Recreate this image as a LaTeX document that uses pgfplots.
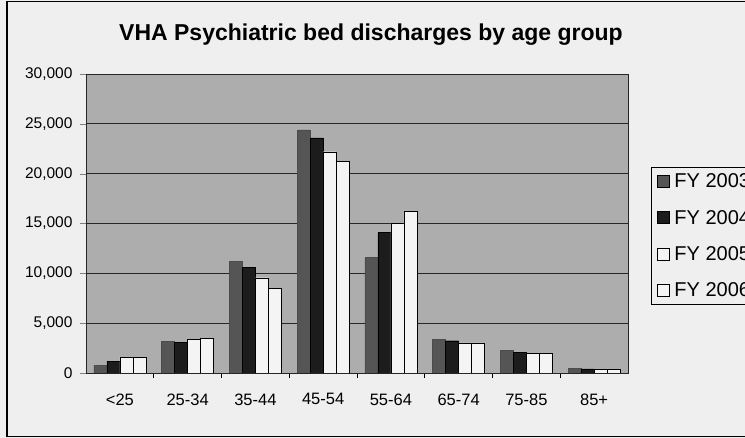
\documentclass[border=0pt]{standalone}
\usepackage{pgfplots}
\pgfplotsset{compat=1.18}
\usepackage{pgfplotstable}
\usepackage{fontspec}
\setmainfont{Liberation Sans}
\definecolor{bgc}{HTML}{EFEFEF}
\definecolor{plotc}{HTML}{ADADAD}
\definecolor{c03}{HTML}{555555}
\definecolor{c04}{HTML}{1C1C1C}
\definecolor{c05}{HTML}{F4F4F4}
\definecolor{c06}{HTML}{F4F4F4}
\pgfplotstableread{
cat y03 y04 y05 y06
0 800 1180 1580 1580
1 3150 3100 3350 3450
2 11170 10570 9560 8500
3 24400 23600 22200 21250
4 11580 14090 15000 16240
5 3410 3240 3010 3010
6 2240 2070 2000 2000
7 450 420 400 380
}\datatable
\begin{document}
\begin{tikzpicture}[x=1pt,y=1pt]
\path[use as bounding box] (0,0) rectangle (745,438);
\clip (0,0) rectangle (745,438);
\fill[bgc] (0,0) rectangle (745,438);
\draw[line width=1.3pt] (7,1.5) rectangle (760,436.5);
\node[font=\fontsize{23}{26}\selectfont\bfseries] at (371,403) {VHA Psychiatric bed discharges by age group};
\begin{axis}[
  at={(86pt,65pt)}, anchor=south west, scale only axis,
  width=542pt, height=299pt,
  ybar=0pt, bar width=13pt,
  xmin=-0.5, xmax=7.5, ymin=0, ymax=30000,
  xtick={0,...,7},
  xticklabels={<25,25-34,35-44,45-54,55-64,65-74,75-85,85+},
  major x tick style={draw=none},
  minor xtick={0.5,1.5,...,6.5},
  minor x tick style={draw=black, line width=0.8pt},
  minor tick length=5pt,
  tick pos=left,
  ytick={0,5000,...,30000},
  tick align=outside, major tick length=6pt,
  ymajorgrids, grid style={black!85, line width=0.9pt},
  axis background/.style={fill=plotc},
  axis line style={black!85, line width=0.9pt},
  scaled y ticks=false,
  /pgf/number format/1000 sep={,},
  /pgf/number format/assume math mode=true,
  yticklabel style={font=\fontsize{15.5}{17}\selectfont, xshift=-4pt},
  xticklabel style={font=\fontsize{16.5}{18}\selectfont, yshift=-11pt},
  legend style={at={(1.0424,0.692)}, anchor=north west, draw=black, line width=1pt, fill=bgc,
    font=\fontsize{20}{22}\selectfont, row sep=17pt, inner sep=4pt, yshift=-1pt},
  legend cell align=left,
  legend image code/.code={\path[draw=none, fill=none] (0pt,0pt) -- (17pt,0pt);\draw[#1, draw=black, line width=0.8pt] (2pt,-6pt) rectangle (14pt,6pt);},
]
\addplot[fill=c03, draw=black!70] table[x=cat, y=y03] {\datatable};
\addplot[fill=c04, draw=black] table[x=cat, y=y04] {\datatable};
\addplot[fill=c05, draw=black] table[x=cat, y=y05] {\datatable};
\addplot[fill=c06, draw=black] table[x=cat, y=y06] {\datatable};
\legend{FY 2003, FY 2004, FY 2005, FY 2006}
\end{axis}
\end{tikzpicture}
\end{document}
